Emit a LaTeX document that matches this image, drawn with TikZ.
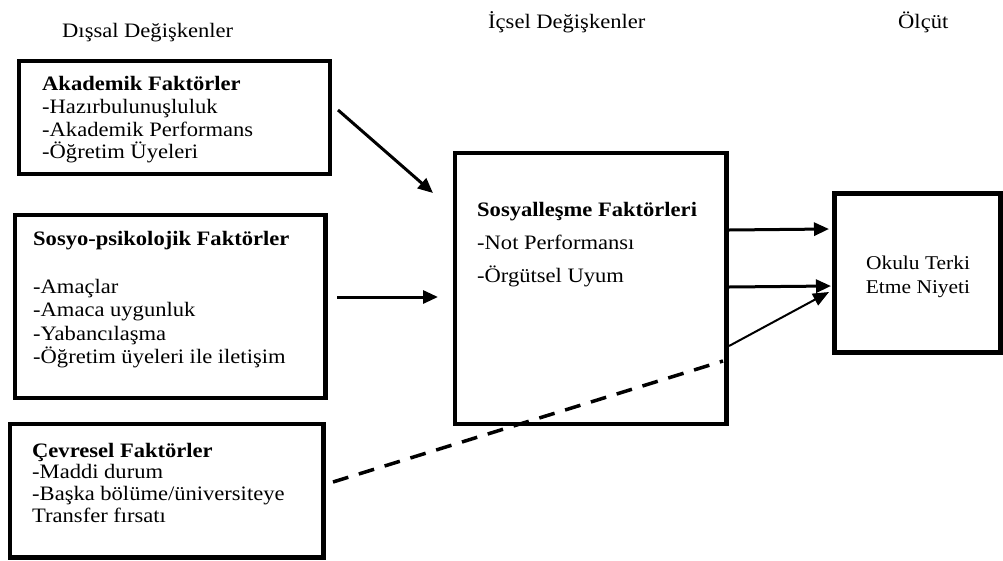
\documentclass[tikz,border=0pt]{standalone}
\usepackage{fontspec}
\setmainfont{Liberation Serif}[FakeStretch=1.1]
\usetikzlibrary{arrows.meta}
\begin{document}
\begin{tikzpicture}[x=1pt,y=-1pt,
  frame/.style={draw, line width=4.8pt, inner sep=0pt},
  txt/.style={anchor=base west, inner sep=0pt, font=\fontsize{20.5}{24}\selectfont},
  hd/.style={anchor=base west, inner sep=0pt, font=\bfseries\fontsize{20.5}{24}\selectfont},
  ctxt/.style={anchor=base, inner sep=0pt, font=\fontsize{19.5}{23}\selectfont},
  conn/.style={line width=3pt, -{Triangle[length=15pt,width=13pt]}},
  thinconn/.style={line width=2pt, -{Triangle[length=16pt,width=13pt]}},
  dashconn/.style={line width=3.5pt, dash pattern=on 16pt off 11pt},
]
\useasboundingbox (0,0) rectangle (1003,560);
% headers
\node[txt] (h1) at (62,37) {Dışsal Değişkenler};
\node[txt] (h2) at (488,28) {İçsel Değişkenler};
\node[txt] (h3) at (898,28) {Ölçüt};
% boxes
\node[frame, minimum width=311pt, minimum height=113pt] (akad) at (174.5,117.5) {};
\node[frame, minimum width=310.5pt, minimum height=183pt] (sosyo) at (170.25,306.5) {};
\node[frame, minimum width=313.5pt, minimum height=133.5pt] (cevre) at (166.75,490.75) {};
\node[frame, minimum width=271.5pt, minimum height=271pt] (sosyal) at (590.75,288.5) {};
\node[frame, minimum width=166pt, minimum height=159pt] (okul) at (917.5,273) {};
% box 1 text
\node[hd] (t11) at (42,90) {Akademik Faktörler};
\node[txt] (t12) at (42,113) {-Hazırbulunuşluluk};
\node[txt] (t13) at (42,136) {-Akademik Performans};
\node[txt] (t14) at (42,158) {-Öğretim Üyeleri};
% box 2 text
\node[hd] (t21) at (33,245) {Sosyo-psikolojik Faktörler};
\node[txt] (t22) at (33,293) {-Amaçlar};
\node[txt] (t23) at (33,316.5) {-Amaca uygunluk};
\node[txt] (t24) at (33,340) {-Yabancılaşma};
\node[txt] (t25) at (33,363) {-Öğretim üyeleri ile iletişim};
% box 3 text
\node[hd] (t31) at (32,457) {Çevresel Faktörler};
\node[txt] (t32) at (32,478) {-Maddi durum};
\node[txt] (t33) at (32,500) {-Başka bölüme/üniversiteye};
\node[txt] (t34) at (32,522) {Transfer fırsatı};
% central text
\node[hd] (t41) at (477,216) {Sosyalleşme Faktörleri};
\node[txt] (t42) at (477,249) {-Not Performansı};
\node[txt] (t43) at (477,282) {-Örgütsel Uyum};
% right text
\node[ctxt] (t51) at (918,269) {Okulu Terki};
\node[ctxt] (t52) at (918,293) {Etme Niyeti};
% connector end points
\coordinate (a1s) at (338,110);
\coordinate (a1e) at (433,193);
\coordinate (a2s) at (337,297);
\coordinate (a2e) at (438,297);
\coordinate (a3s) at (729,230);
\coordinate (a3e) at (829,229);
\coordinate (a4s) at (729,287);
\coordinate (a4e) at (831,286);
\coordinate (a5s) at (729,346);
\coordinate (a5e) at (829,292);
\coordinate (ds) at (333,482);
\coordinate (de) at (723,361);
% connectors
\draw[conn] (a1s) -- (a1e);
\draw[conn] (a2s) -- (a2e);
\draw[conn] (a3s) -- (a3e);
\draw[conn] (a4s) -- (a4e);
\draw[thinconn] (a5s) -- (a5e);
\draw[dashconn] (ds) -- (de);
\end{tikzpicture}
\end{document}
